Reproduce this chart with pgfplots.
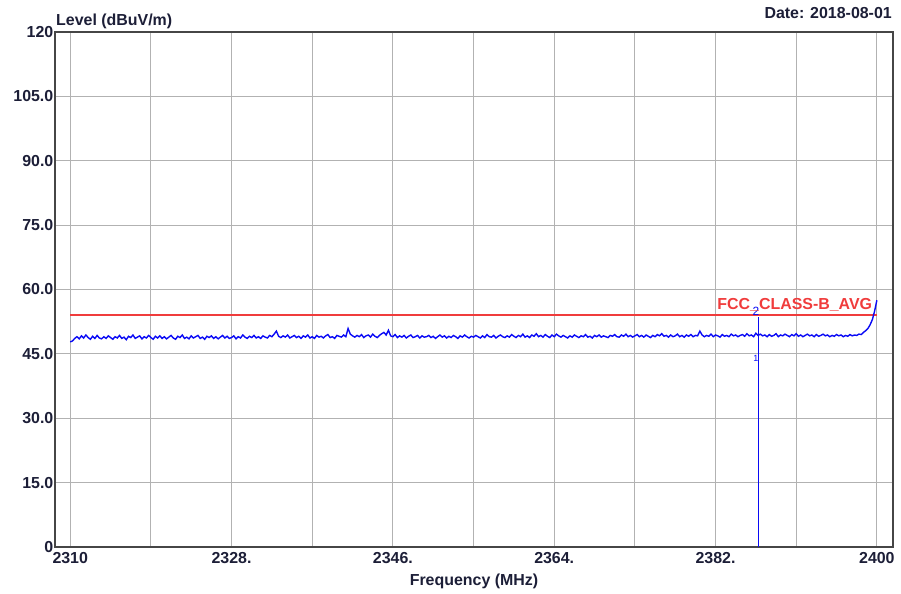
\documentclass[border=0pt]{standalone}
\usepackage{pgfplots}
\pgfplotsset{compat=1.18}
\usepackage{fontspec}
\setmainfont{Liberation Sans}

\definecolor{framec}{RGB}{70,70,70}
\definecolor{gridc}{RGB}{178,178,178}
\definecolor{txt}{RGB}{28,30,55}
\definecolor{trace}{RGB}{10,10,245}
\definecolor{fccred}{RGB}{240,60,60}
\newcommand\lbl{\fontsize{16}{18}\selectfont\bfseries}

\begin{document}
\begin{tikzpicture}
\useasboundingbox (0,0) rectangle (901bp,594bp);

\begin{axis}[
    at={(55bp,47bp)}, anchor=south west,
    scale only axis,
    width=838bp, height=515bp,
    xmin=2308.3, xmax=2401.8,
    ymin=0, ymax=120,
    clip=false,
    axis line style={framec, line width=2bp},
    xtick={2310,2328,2346,2364,2382,2400},
    xticklabels={2310,2328.,2346.,2364.,2382.,2400},
    minor xtick={2319,2337,2355,2373,2391},
    ytick={0,15,30,45,60,75,90,105,120},
    yticklabels={0,15.0,30.0,45.0,60.0,75.0,90.0,105.0,120},
    major tick length=0pt, minor tick length=0pt,
    xmajorgrids, xminorgrids, ymajorgrids,
    major grid style={gridc, line width=0.9bp},
    minor grid style={gridc, line width=0.9bp},
    tick label style={font=\lbl, text=txt},
    yticklabel style={inner sep=1.5bp},
    xticklabel style={inner sep=1.5bp, yshift=-4bp},
    xlabel={Frequency (MHz)},
    xlabel style={font=\lbl, text=txt, at={(rel axis cs:0.5,0)}, anchor=center, yshift=-34bp},
]

% limit line
\addplot[color=fccred, mark=none, line width=2bp] coordinates {(2310,54) (2400,54)};

% measured trace
\addplot[color=trace, mark=none, line width=1.4bp] coordinates {
(2310.00,47.8) (2310.25,48.0) (2310.50,48.6) (2310.75,49.0)
(2311.00,48.5) (2311.25,49.2) (2311.50,48.7) (2311.75,49.4)
(2312.00,48.8) (2312.25,48.4) (2312.50,49.1) (2312.75,48.6)
(2313.00,49.3) (2313.25,48.7) (2313.50,48.5) (2313.75,49.0)
(2314.00,48.6) (2314.25,49.2) (2314.50,48.8) (2314.75,48.4)
(2315.00,49.0) (2315.25,48.7) (2315.50,49.3) (2315.75,48.6)
(2316.00,48.9) (2316.25,48.3) (2316.50,49.1) (2316.75,48.8)
(2317.00,49.4) (2317.25,48.6) (2317.50,48.9) (2317.75,49.2)
(2318.00,48.5) (2318.25,49.0) (2318.50,48.7) (2318.75,49.3)
(2319.00,48.8) (2319.25,48.4) (2319.50,49.1) (2319.75,48.7)
(2320.00,49.2) (2320.25,48.6) (2320.50,49.0) (2320.75,48.5)
(2321.00,48.9) (2321.25,49.3) (2321.50,48.7) (2321.75,48.4)
(2322.00,49.1) (2322.25,48.8) (2322.50,49.4) (2322.75,48.6)
(2323.00,48.9) (2323.25,48.5) (2323.50,49.2) (2323.75,48.7)
(2324.00,49.0) (2324.25,49.3) (2324.50,48.6) (2324.75,48.9)
(2325.00,48.4) (2325.25,49.1) (2325.50,48.8) (2325.75,49.2)
(2326.00,48.6) (2326.25,49.0) (2326.50,48.5) (2326.75,48.9)
(2327.00,49.3) (2327.25,48.7) (2327.50,49.1) (2327.75,48.6)
(2328.00,48.8) (2328.25,49.2) (2328.50,48.5) (2328.75,49.0)
(2329.00,48.7) (2329.25,49.4) (2329.50,48.9) (2329.75,48.6)
(2330.00,49.1) (2330.25,48.8) (2330.50,49.3) (2330.75,48.7)
(2331.00,49.0) (2331.25,48.6) (2331.50,49.2) (2331.75,48.9)
(2332.00,48.7) (2332.25,49.3) (2332.50,49.0) (2332.75,49.6)
(2333.00,50.3) (2333.25,49.1) (2333.50,48.8) (2333.75,49.2)
(2334.00,48.9) (2334.25,49.4) (2334.50,48.7) (2334.75,49.0)
(2335.00,49.3) (2335.25,48.8) (2335.50,49.1) (2335.75,48.6)
(2336.00,49.2) (2336.25,48.9) (2336.50,49.4) (2336.75,48.7)
(2337.00,49.0) (2337.25,48.6) (2337.50,49.3) (2337.75,48.9)
(2338.00,49.1) (2338.25,48.7) (2338.50,49.2) (2338.75,49.5)
(2339.00,48.8) (2339.25,49.0) (2339.50,48.6) (2339.75,49.3)
(2340.00,49.1) (2340.25,48.9) (2340.50,49.4) (2340.75,49.0)
(2341.00,50.9) (2341.25,49.6) (2341.50,49.2) (2341.75,48.9)
(2342.00,49.3) (2342.25,49.0) (2342.50,49.5) (2342.75,48.8)
(2343.00,49.2) (2343.25,49.4) (2343.50,48.9) (2343.75,49.6)
(2344.00,49.1) (2344.25,48.8) (2344.50,49.3) (2344.75,49.7)
(2345.00,50.0) (2345.25,49.4) (2345.50,50.5) (2345.75,49.2)
(2346.00,49.0) (2346.25,49.5) (2346.50,48.8) (2346.75,49.2)
(2347.00,48.9) (2347.25,49.3) (2347.50,48.7) (2347.75,49.1)
(2348.00,49.4) (2348.25,48.8) (2348.50,49.0) (2348.75,49.3)
(2349.00,48.7) (2349.25,49.2) (2349.50,48.9) (2349.75,49.0)
(2350.00,49.3) (2350.25,48.8) (2350.50,49.1) (2350.75,48.6)
(2351.00,49.0) (2351.25,49.4) (2351.50,48.9) (2351.75,49.2)
(2352.00,48.7) (2352.25,49.1) (2352.50,48.8) (2352.75,49.3)
(2353.00,49.0) (2353.25,48.6) (2353.50,49.2) (2353.75,48.9)
(2354.00,49.4) (2354.25,49.0) (2354.50,48.7) (2354.75,49.1)
(2355.00,48.9) (2355.25,49.3) (2355.50,49.0) (2355.75,48.7)
(2356.00,49.2) (2356.25,48.8) (2356.50,49.5) (2356.75,49.0)
(2357.00,48.9) (2357.25,49.3) (2357.50,48.7) (2357.75,49.1)
(2358.00,49.4) (2358.25,49.0) (2358.50,48.8) (2358.75,49.2)
(2359.00,48.9) (2359.25,49.5) (2359.50,49.1) (2359.75,48.8)
(2360.00,49.3) (2360.25,49.0) (2360.50,49.6) (2360.75,48.9)
(2361.00,49.2) (2361.25,48.8) (2361.50,49.4) (2361.75,49.1)
(2362.00,49.7) (2362.25,49.0) (2362.50,49.3) (2362.75,48.9)
(2363.00,49.5) (2363.25,49.1) (2363.50,48.8) (2363.75,49.4)
(2364.00,49.0) (2364.25,49.6) (2364.50,49.2) (2364.75,48.9)
(2365.00,49.3) (2365.25,49.0) (2365.50,48.7) (2365.75,49.2)
(2366.00,48.9) (2366.25,49.4) (2366.50,49.1) (2366.75,48.8)
(2367.00,49.2) (2367.25,49.0) (2367.50,49.5) (2367.75,48.9)
(2368.00,49.1) (2368.25,48.7) (2368.50,49.3) (2368.75,49.0)
(2369.00,49.4) (2369.25,48.9) (2369.50,49.2) (2369.75,49.0)
(2370.00,48.8) (2370.25,49.3) (2370.50,49.1) (2370.75,49.5)
(2371.00,49.0) (2371.25,48.9) (2371.50,49.4) (2371.75,49.1)
(2372.00,49.6) (2372.25,49.0) (2372.50,49.3) (2372.75,48.9)
(2373.00,49.2) (2373.25,49.5) (2373.50,49.0) (2373.75,49.3)
(2374.00,48.9) (2374.25,49.4) (2374.50,49.1) (2374.75,48.8)
(2375.00,49.3) (2375.25,49.0) (2375.50,49.5) (2375.75,49.2)
(2376.00,49.7) (2376.25,49.1) (2376.50,49.3) (2376.75,48.9)
(2377.00,49.4) (2377.25,49.0) (2377.50,49.2) (2377.75,49.6)
(2378.00,49.0) (2378.25,49.3) (2378.50,48.9) (2378.75,49.4)
(2379.00,49.1) (2379.25,49.5) (2379.50,49.0) (2379.75,49.3)
(2380.00,49.2) (2380.25,50.3) (2380.50,49.4) (2380.75,49.0)
(2381.00,49.3) (2381.25,49.1) (2381.50,49.6) (2381.75,49.0)
(2382.00,49.4) (2382.25,49.2) (2382.50,48.9) (2382.75,49.5)
(2383.00,49.1) (2383.25,49.3) (2383.50,49.0) (2383.75,49.6)
(2384.00,49.2) (2384.25,49.4) (2384.50,49.0) (2384.75,49.3)
(2385.00,49.5) (2385.25,49.1) (2385.50,49.7) (2385.75,49.2)
(2386.00,49.4) (2386.25,49.0) (2386.50,49.8) (2386.75,49.3)
(2387.00,49.6) (2387.25,49.2) (2387.50,49.4) (2387.75,49.0)
(2388.00,49.5) (2388.25,49.1) (2388.50,49.3) (2388.75,49.7)
(2389.00,49.0) (2389.25,49.4) (2389.50,49.2) (2389.75,49.6)
(2390.00,49.3) (2390.25,49.0) (2390.50,49.5) (2390.75,49.2)
(2391.00,49.7) (2391.25,49.1) (2391.50,49.4) (2391.75,49.0)
(2392.00,49.3) (2392.25,49.6) (2392.50,49.2) (2392.75,49.4)
(2393.00,49.0) (2393.25,49.5) (2393.50,49.1) (2393.75,49.3)
(2394.00,49.6) (2394.25,49.2) (2394.50,49.4) (2394.75,49.0)
(2395.00,49.3) (2395.25,49.1) (2395.50,49.5) (2395.75,49.2)
(2396.00,49.4) (2396.25,49.0) (2396.50,49.3) (2396.75,49.1)
(2397.00,49.5) (2397.25,49.2) (2397.50,49.4) (2397.75,49.3)
(2398.00,49.6) (2398.25,49.5) (2398.50,50.0) (2398.75,50.4)
(2399.00,50.9) (2399.25,51.8) (2399.50,53.0) (2399.75,55.0)
(2400.00,57.5)
};

% marker line
\addplot[color=trace, mark=none, line width=1.2bp] coordinates {(2386.8,0) (2386.8,53.5)};

\node[text=trace, font=\fontsize{12}{13}\selectfont] at (axis cs:2386.5,55.0) {2};
\node[text=trace, font=\fontsize{9}{10}\selectfont] at (axis cs:2386.5,44.0) {1};

\node[anchor=south east, text=fccred, inner sep=1bp, font=\lbl]
    at (axis cs:2399.6,54.6) {FCC\_CLASS-B\_AVG};

\node[anchor=south west, text=txt, inner sep=1bp, font=\lbl]
    at ([yshift=2bp]rel axis cs:0,1) {Level (dBuV/m)};
\node[anchor=south east, text=txt, inner sep=1bp, font=\lbl]
    at ([yshift=12bp]rel axis cs:1,1) {Date: 2018-08-01};
\end{axis}
\end{tikzpicture}
\end{document}
